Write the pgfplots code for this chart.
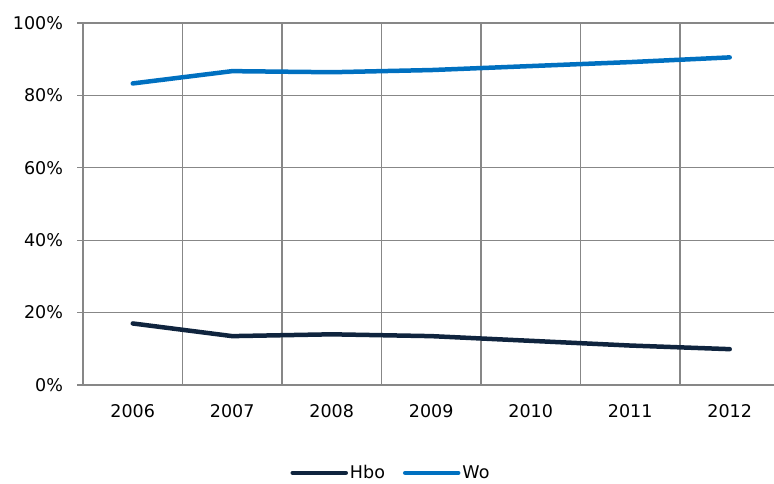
\documentclass[border=0pt]{standalone}
\usepackage{pgfplots}
\pgfplotsset{compat=1.18}
\usepackage{fontspec}
\setmainfont{DejaVu Sans}
\definecolor{hbo}{HTML}{0F243E}
\definecolor{wo}{HTML}{0070C0}
\definecolor{gridc}{HTML}{878787}
\begin{document}
\fontsize{17.5}{21}\selectfont
\begin{tikzpicture}[x=1pt,y=1pt]
\path[use as bounding box] (0,0) rectangle (774,484);
\begin{axis}[
  at={(83pt,99pt)}, anchor=south west,
  scale only axis, width=691pt, height=362pt,
  xmin=-0.5, xmax=6.445, ymin=0, ymax=100,
  axis x line*=bottom, axis y line*=left,
  axis line style={gridc, line width=1.3pt, -},
  xtick={0,1,2,3,4,5,6},
  xticklabels={2006,2007,2008,2009,2010,2011,2012},
  xtick style={draw=none},
  extra x ticks={0.5,1.5,2.5,3.5,4.5,5.5},
  extra x tick labels={},
  extra x tick style={grid=major, major tick length=0pt},
  ytick={0,20,40,60,80,100},
  yticklabels={0\%,20\%,40\%,60\%,80\%,100\%},
  ymajorgrids=true,
  ytick style={gridc, line width=1.3pt},
  tick align=outside, major tick length=6pt,
  major grid style={gridc, line width=1.3pt},
  ticklabel style={font=\fontsize{17.5}{21}\selectfont, text=black},
  xticklabel style={yshift=-7pt},
  yticklabel style={xshift=-8pt},
  legend columns=2,
  legend style={draw=none, fill=none, at={(axis description cs:0.4457,-0.243)}, anchor=center,
    font=\fontsize{17.5}{21}\selectfont, /tikz/every even column/.append style={column sep=16pt}},
  legend image code/.code={\draw[#1, line width=4.5pt, line cap=round] (0pt,0pt) -- (53pt,0pt);},
]
\addplot[hbo, line width=4.5pt, line cap=round, line join=round] coordinates {
  (0,17.0) (1,13.5) (2,14.0) (3,13.5) (4,12.2) (5,10.9) (6,9.9)};
\addlegendentry{Hbo}
\addplot[wo, line width=4.5pt, line cap=round, line join=round] coordinates {
  (0,83.3) (1,86.7) (2,86.4) (3,87.0) (4,88.1) (5,89.2) (6,90.5)};
\addlegendentry{Wo}
\end{axis}
\end{tikzpicture}
\end{document}
